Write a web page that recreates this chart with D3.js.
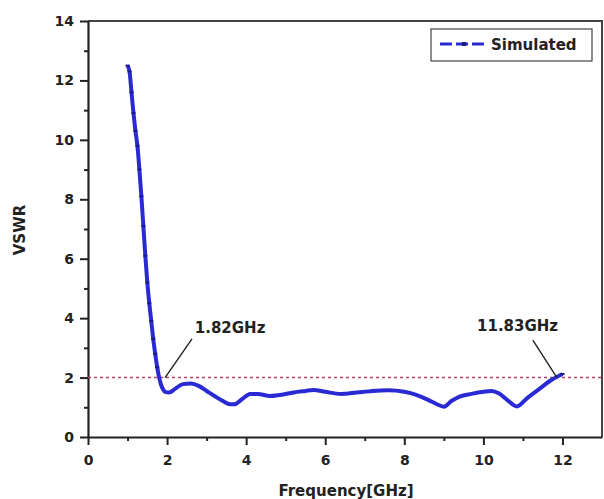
<!DOCTYPE html>
<html>
<head>
<meta charset="utf-8">
<script src="https://cdn.jsdelivr.net/npm/d3@7"></script>
<style>
  body { margin: 0; background: #fff; }
  text { font-family: "DejaVu Sans", Verdana, sans-serif; font-weight: bold; }
</style>
</head>
<body>
<div id="chart-container"></div>
<script>
// values
const freq = [1.0, 1.05, 1.1, 1.15, 1.2, 1.25, 1.3, 1.35, 1.4, 1.45, 1.5, 1.55, 1.6, 1.65, 1.7, 1.75, 1.8, 1.85, 1.9, 1.95,
    2.05, 2.2, 2.4, 2.6, 2.8, 3.0, 3.2, 3.4, 3.6, 3.7, 3.9, 4.1, 4.3, 4.6, 4.9, 5.2, 5.5, 5.7, 6.0, 6.4,
    6.8, 7.2, 7.6, 8.0, 8.3, 8.6, 8.8, 9.0, 9.2, 9.4, 9.7, 10.0, 10.2, 10.4, 10.6, 10.85, 11.1, 11.4, 11.7, 12.0];
const vswr = [12.5, 12.3, 11.6, 10.9, 10.3, 9.8, 9.0, 8.1, 7.1, 6.1, 5.2, 4.5, 3.9, 3.3, 2.8, 2.35, 2.0, 1.75, 1.6, 1.52,
    1.5, 1.62, 1.78, 1.8, 1.72, 1.55, 1.38, 1.22, 1.1, 1.1, 1.28, 1.45, 1.45, 1.38, 1.42, 1.5, 1.55, 1.58, 1.52, 1.45,
    1.5, 1.55, 1.57, 1.52, 1.42, 1.25, 1.12, 1.02, 1.22, 1.36, 1.45, 1.52, 1.55, 1.46, 1.25, 1.03, 1.3, 1.6, 1.9, 2.12];
const xTicks = [0, 2, 4, 6, 8, 10, 12];
const yTicks = [0, 2, 4, 6, 8, 10, 12, 14];
const refLevel = 2;
// label position (tx, ty) and leader line from (lx, ly) to (ex, refLevel)
const markers = [
    { label: "1.82GHz", tx: 2.7, ty: 3.5, lx: 2.63, ly: 3.3, ex: 1.95 },
    { label: "11.83GHz", tx: 9.84, ty: 3.57, lx: 11.25, ly: 3.26, ex: 11.86 }
];
const seriesName = "Simulated";

const margin = { top: 21, right: 2, bottom: 62, left: 88 },
    width = 604 - margin.left - margin.right,
    height = 499 - margin.top - margin.bottom;

const svg = d3.select('#chart-container')
    .append('svg')
    .attr('width', 604)
    .attr('height', 499)
    .append('g')
    .attr('transform', `translate(${margin.left},${margin.top})`);

const x = d3.scaleLinear().domain([0, 13]).range([0, width]);
const y = d3.scaleLinear().domain([0, 14]).range([height, 0]);

// frame (top + right)
svg.append('path')
    .attr('d', `M0,0H${width}V${height}`)
    .attr('fill', 'none')
    .attr('stroke', '#444')
    .attr('stroke-width', 2);

// minor ticks
svg.append('g')
    .attr('transform', `translate(0,${height})`)
    .call(d3.axisBottom(x).tickValues(d3.range(1, 13, 2)).tickSize(4).tickFormat(''))
    .call(g => g.select('.domain').remove())
    .selectAll('line').attr('stroke', '#222').attr('stroke-width', 2);
svg.append('g')
    .call(d3.axisLeft(y).tickValues(d3.range(1, 14, 2)).tickSize(4).tickFormat(''))
    .call(g => g.select('.domain').remove())
    .selectAll('line').attr('stroke', '#222').attr('stroke-width', 2);

// X axis
const xAxis = svg.append('g')
    .attr('transform', `translate(0,${height})`)
    .call(d3.axisBottom(x).tickValues(xTicks).tickSize(8).tickSizeOuter(0).tickPadding(10));
xAxis.select('.domain').attr('stroke', '#222').attr('stroke-width', 2.2);
xAxis.selectAll('line').attr('stroke', '#222').attr('stroke-width', 2);
xAxis.selectAll('text').attr('font-size', 14).attr('fill', '#222')
    .style('font-family', '"DejaVu Sans", Verdana, sans-serif').style('font-weight', 'bold');

// Y axis
const yAxis = svg.append('g')
    .call(d3.axisLeft(y).tickValues(yTicks).tickSize(8).tickSizeOuter(0).tickPadding(6));
yAxis.select('.domain').attr('stroke', '#222').attr('stroke-width', 2.2);
yAxis.selectAll('line').attr('stroke', '#222').attr('stroke-width', 2);
yAxis.selectAll('text').attr('font-size', 14).attr('fill', '#222')
    .style('font-family', '"DejaVu Sans", Verdana, sans-serif').style('font-weight', 'bold');

// axis titles
svg.append('text')
    .attr('x', width / 2 + 1)
    .attr('y', height + 59)
    .attr('text-anchor', 'middle')
    .attr('font-size', 15)
    .attr('fill', '#222')
    .text('Frequency[GHz]');
svg.append('text')
    .attr('transform', `translate(${-63},${209}) rotate(-90)`)
    .attr('text-anchor', 'middle')
    .attr('font-size', 15)
    .attr('fill', '#222')
    .text('VSWR');

// reference level VSWR = 2
svg.append('line')
    .attr('x1', x(0)).attr('x2', x(13))
    .attr('y1', y(refLevel)).attr('y2', y(refLevel))
    .attr('stroke', '#b04070')
    .attr('stroke-width', 1.5)
    .attr('stroke-dasharray', '3,3');

// curve
const data = freq.map((f, i) => ({ f: f, v: vswr[i] }));
svg.append('path')
    .datum(data)
    .attr('fill', 'none')
    .attr('stroke', '#2a2ad4')
    .attr('stroke-width', 4)
    .attr('stroke-linejoin', 'round')
    .attr('d', d3.line().x(d => x(d.f)).y(d => y(d.v)).curve(d3.curveMonotoneX));

svg.append('g')
    .selectAll('rect')
    .data(data.filter(d => d.v > 2))
    .enter()
    .append('rect')
    .attr('x', d => x(d.f) - 2)
    .attr('y', d => y(d.v) - 1)
    .attr('width', 4)
    .attr('height', 2)
    .attr('fill', '#1a1a80');

// annotations
markers.forEach(m => {
    svg.append('line')
        .attr('x1', x(m.lx)).attr('y1', y(m.ly))
        .attr('x2', x(m.ex)).attr('y2', y(refLevel))
        .attr('stroke', '#222').attr('stroke-width', 1.4);
    svg.append('text')
        .attr('x', x(m.tx))
        .attr('y', y(m.ty))
        .attr('font-size', 15)
        .attr('fill', '#222')
        .text(m.label);
});

// legend
const legend = svg.append('g').attr('transform', `translate(${343},${8})`);
legend.append('rect')
    .attr('width', 161).attr('height', 32)
    .attr('fill', '#fff').attr('stroke', '#444').attr('stroke-width', 1.2);
legend.append('line')
    .attr('x1', 9).attr('x2', 57).attr('y1', 15).attr('y2', 15)
    .attr('stroke', '#2a2ad4').attr('stroke-width', 3).attr('stroke-dasharray', '12,4');
legend.append('rect')
    .attr('x', 31).attr('y', 13).attr('width', 4).attr('height', 4).attr('fill', '#1a1a80');
legend.append('text')
    .attr('x', 60).attr('y', 21)
    .attr('font-size', 15)
    .attr('fill', '#222')
    .text(seriesName);
</script>
</body>
</html>
